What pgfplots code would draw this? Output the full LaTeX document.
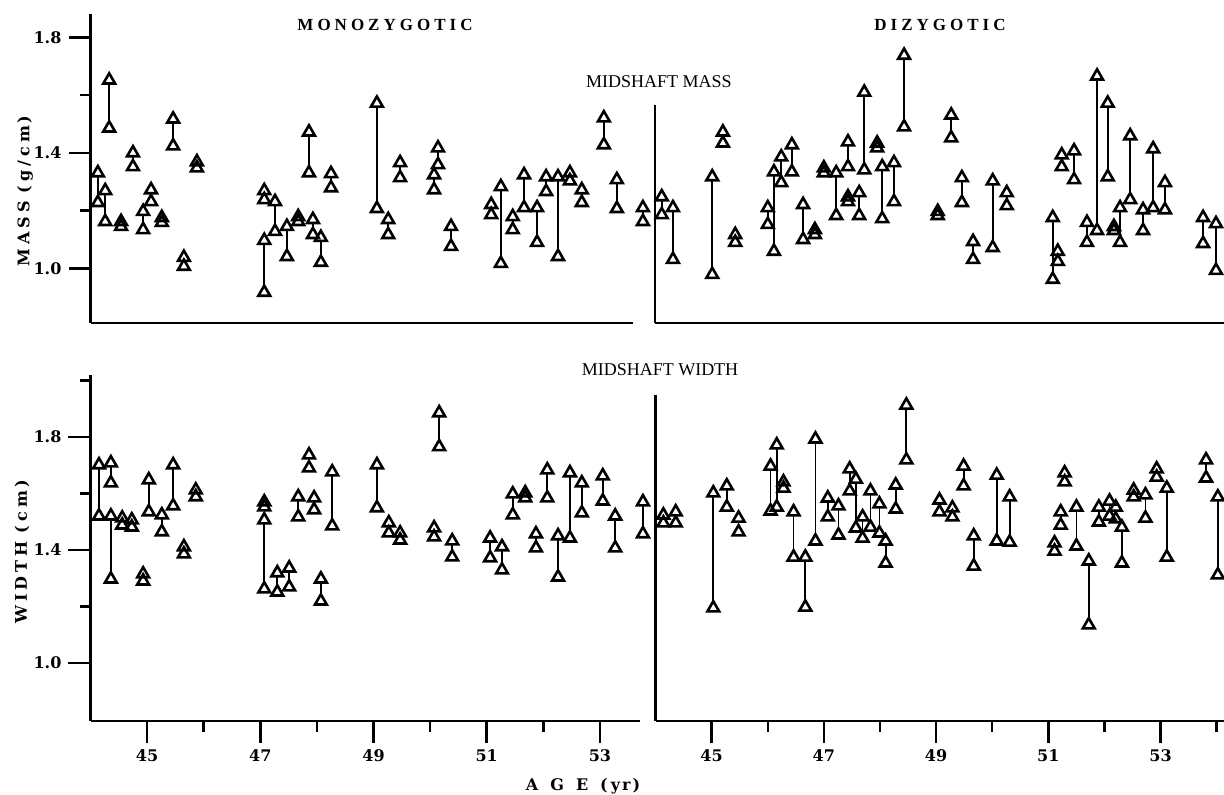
\documentclass[border=0pt]{standalone}
\usepackage{fontspec}
\setmainfont{DejaVu Serif}
\newfontfamily\tfont{Liberation Serif}
\usepackage{pgfplots}
\usepackage{pgfplotstable}
\pgfplotsset{compat=1.18}

\pgfplotstableread{
x a b
44.13 1.331 1.228
44.26 1.269 1.162
44.33 1.652 1.486
44.54 1.162 1.145
44.75 1.400 1.352
44.93 1.197 1.134
45.07 1.272 1.231
45.26 1.176 1.159
45.46 1.517 1.424
45.65 1.038 1.007
45.88 1.369 1.348
47.07 1.269 1.238
47.07 1.097 0.917
47.26 1.231 1.128
47.47 1.145 1.041
47.67 1.179 1.162
47.86 1.472 1.331
47.93 1.169 1.117
48.07 1.107 1.021
48.25 1.328 1.279
49.06 1.572 1.207
49.26 1.169 1.117
49.47 1.366 1.314
50.07 1.324 1.272
50.14 1.417 1.359
50.37 1.145 1.076
51.08 1.221 1.186
51.25 1.283 1.017
51.46 1.179 1.134
51.66 1.324 1.210
51.89 1.210 1.090
52.05 1.317 1.266
52.26 1.317 1.041
52.47 1.331 1.303
52.68 1.272 1.228
53.07 1.521 1.428
53.30 1.307 1.207
53.76 1.210 1.162
}\tabTL

\pgfplotstableread{
x a b
44.12 1.248 1.186
44.32 1.210 1.031
45.02 1.317 0.979
45.21 1.472 1.434
45.43 1.117 1.090
46.01 1.210 1.152
46.12 1.334 1.059
46.25 1.386 1.297
46.44 1.428 1.334
46.64 1.221 1.100
46.85 1.134 1.117
47.01 1.348 1.331
47.23 1.331 1.183
47.44 1.438 1.352
47.44 1.248 1.231
47.64 1.262 1.183
47.73 1.610 1.341
47.96 1.434 1.417
48.05 1.352 1.172
48.26 1.366 1.231
48.44 1.738 1.490
49.04 1.197 1.183
49.28 1.531 1.452
49.47 1.314 1.228
49.67 1.093 1.031
50.02 1.303 1.072
50.27 1.262 1.217
51.09 1.176 0.962
51.18 1.059 1.024
51.25 1.393 1.352
51.47 1.407 1.307
51.70 1.159 1.090
51.88 1.666 1.131
52.07 1.572 1.317
52.18 1.145 1.131
52.29 1.210 1.090
52.47 1.459 1.238
52.70 1.203 1.131
52.88 1.414 1.210
53.09 1.297 1.203
53.77 1.176 1.086
54.00 1.155 0.993
}\tabTR

\pgfplotstableread{
x a b
44.15 1.701 1.520
44.36 1.708 1.637
44.36 1.520 1.297
44.56 1.513 1.488
44.73 1.506 1.481
44.93 1.315 1.290
45.03 1.648 1.535
45.26 1.524 1.464
45.46 1.701 1.556
45.65 1.411 1.386
45.86 1.612 1.588
47.07 1.570 1.552
47.07 1.506 1.262
47.30 1.319 1.251
47.51 1.336 1.269
47.67 1.588 1.517
47.86 1.736 1.690
47.95 1.584 1.542
48.07 1.297 1.219
48.27 1.676 1.485
49.06 1.701 1.549
49.27 1.496 1.460
49.47 1.460 1.435
50.07 1.478 1.446
50.16 1.885 1.765
50.39 1.432 1.375
51.06 1.442 1.372
51.27 1.411 1.329
51.46 1.598 1.524
51.68 1.602 1.584
51.87 1.457 1.407
52.07 1.683 1.584
52.26 1.450 1.304
52.47 1.673 1.442
52.68 1.637 1.531
53.05 1.662 1.573
53.27 1.520 1.407
53.76 1.570 1.457
}\tabBL

\pgfplotstableread{
x a b
44.14 1.524 1.496
44.36 1.535 1.496
45.03 1.602 1.195
45.27 1.627 1.552
45.48 1.513 1.464
46.05 1.697 1.538
46.16 1.772 1.552
46.28 1.641 1.619
46.46 1.535 1.375
46.67 1.375 1.198
46.85 1.793 1.432
47.07 1.584 1.517
47.26 1.556 1.453
47.46 1.687 1.609
47.57 1.651 1.478
47.69 1.517 1.442
47.83 1.609 1.481
47.99 1.563 1.460
48.10 1.432 1.354
48.28 1.630 1.545
48.47 1.913 1.719
49.06 1.577 1.535
49.29 1.549 1.517
49.49 1.697 1.627
49.67 1.450 1.343
50.08 1.665 1.432
50.31 1.588 1.428
51.11 1.425 1.396
51.22 1.535 1.488
51.29 1.673 1.641
51.50 1.552 1.414
51.72 1.361 1.135
51.90 1.552 1.499
52.09 1.573 1.520
52.20 1.552 1.510
52.31 1.481 1.354
52.52 1.612 1.588
52.73 1.595 1.513
52.93 1.687 1.658
53.11 1.619 1.375
53.81 1.719 1.655
54.02 1.588 1.312
}\tabBR

\newcommand\tickfont{\fontsize{8}{9}\selectfont\bfseries}
\newcommand\ls{\kern2pt}

\pgfplotsset{
  twinbase/.style={
    scale only axis, clip=false,
    axis x line*=bottom, axis y line*=left,
    axis line style={-, line width=1.35pt, black},
    tick style={black, line width=1.25pt},
    minor tick style={black, line width=1.25pt},
    major tick style={black, line width=1.25pt},
    major tick length=11pt, minor tick length=5.5pt,
    yticklabel style={font=\tickfont},
    xticklabel style={font=\tickfont},
  },
  pairlines/.style={forget plot, draw=none, no markers,
    error bars/.cd, y dir=plus, y explicit, error mark=none,
    error bar style={draw=black, line width=0.9pt, solid}},
  tri/.style={only marks, mark=triangle, mark size=3.4pt,
    mark options={draw=black, line width=1.3pt, solid}},
}

\begin{document}
\begin{tikzpicture}
\path[use as bounding box] (0,0) rectangle (612pt,-397.5pt);

% ---------- top left: monozygotic mass
\begin{axis}[twinbase,
  width=271.25pt, height=154.5pt,
  at={(45.25pt,-161.5pt)}, anchor=south west,
  xmin=44, xmax=53.585, ymin=0.811, ymax=1.881,
  xtick=\empty, minor xtick={45,46,...,53},
  ytick={1.0,1.4,1.8}, yticklabels={1.0,1.4,1.8},
  minor ytick={1.2,1.6},
  xtick align=center, ytick align=outside,
]
\addplot[pairlines] table[x=x, y expr=\thisrow{b}+0.023, y error expr={max(\thisrow{a}-\thisrow{b}-0.035,0)}] {\tabTL};
\addplot[tri] table[x=x,y=a] {\tabTL};
\addplot[tri] table[x=x,y=b] {\tabTL};
\end{axis}

% ---------- top right: dizygotic mass
\begin{axis}[twinbase,
  width=284.5pt, height=109pt,
  at={(327.5pt,-161.5pt)}, anchor=south west,
  xmin=44, xmax=54.143, ymin=0.811, ymax=1.566,
  xtick=\empty, minor xtick={45,46,...,54},
  ytick=\empty, minor ytick={1.0,1.2,1.4},
  xtick align=center, ytick align=center,
]
\addplot[pairlines] table[x=x, y expr=\thisrow{b}+0.023, y error expr={max(\thisrow{a}-\thisrow{b}-0.035,0)}] {\tabTR};
\addplot[tri] table[x=x,y=a] {\tabTR};
\addplot[tri] table[x=x,y=b] {\tabTR};
\end{axis}

% ---------- bottom left: monozygotic width
\begin{axis}[twinbase,
  width=274.75pt, height=173pt,
  at={(45.25pt,-360.5pt)}, anchor=south west,
  xmin=44, xmax=53.708, ymin=0.795, ymax=2.019,
  xtick={45,47,...,53}, xticklabels={45,47,49,51,53},
  minor xtick={46,48,...,52},
  ytick={1.0,1.4,1.8}, yticklabels={1.0,1.4,1.8},
  minor ytick={1.2,1.6,2.0},
  xtick align=outside, ytick align=outside,
]
\addplot[pairlines] table[x=x, y expr=\thisrow{b}+0.024, y error expr={max(\thisrow{a}-\thisrow{b}-0.036,0)}] {\tabBL};
\addplot[tri] table[x=x,y=a] {\tabBL};
\addplot[tri] table[x=x,y=b] {\tabBL};
\end{axis}

% ---------- bottom right: dizygotic width
\begin{axis}[twinbase,
  width=284.25pt, height=163pt,
  at={(327.75pt,-360.5pt)}, anchor=south west,
  xmin=44, xmax=54.13, ymin=0.795, ymax=1.949,
  xtick={45,47,...,53}, xticklabels={45,47,49,51,53},
  minor xtick={46,48,...,54},
  ytick=\empty, minor ytick={1.0,1.2,1.4,1.6,1.8},
  xtick align=outside, ytick align=center,
]
\addplot[pairlines] table[x=x, y expr=\thisrow{b}+0.024, y error expr={max(\thisrow{a}-\thisrow{b}-0.036,0)}] {\tabBR};
\addplot[tri] table[x=x,y=a] {\tabBR};
\addplot[tri] table[x=x,y=b] {\tabBR};
\end{axis}

% ---------- texts
\node[font=\tfont\fontsize{8.5}{9}\selectfont\bfseries] at (192.5pt,-12.5pt)
  {M\ls O\ls N\ls O\ls Z\ls Y\ls G\ls O\ls T\ls I\ls C};
\node[font=\tfont\fontsize{8.5}{9}\selectfont\bfseries] at (470pt,-12.5pt)
  {D\ls I\ls Z\ls Y\ls G\ls O\ls T\ls I\ls C};
\node[font=\tfont\fontsize{9}{10}\selectfont] at (329.5pt,-41pt) {MIDSHAFT MASS};
\node[font=\tfont\fontsize{9}{10}\selectfont] at (330pt,-185pt) {MIDSHAFT WIDTH};
\node[font=\fontsize{8}{9}\selectfont\bfseries, rotate=90] at (12.5pt,-95.5pt)
  {M\kern2pt A\kern2pt S\kern2pt S\kern4pt (\kern2pt g\kern2pt /\kern2pt c\kern2pt m\kern1.5pt )};
\node[font=\fontsize{8}{9}\selectfont\bfseries, rotate=90] at (11pt,-276pt)
  {W\kern2pt I\kern2pt D\kern2pt T\kern2pt H\kern4pt (\kern2pt c\kern2pt m\kern1.5pt )};
\node[font=\fontsize{8}{9}\selectfont\bfseries] at (291.5pt,-393pt)
  {A\kern6pt G\kern6pt E\kern6pt (\kern1.5pt y\kern1pt r\kern1pt )};
\end{tikzpicture}
\end{document}
